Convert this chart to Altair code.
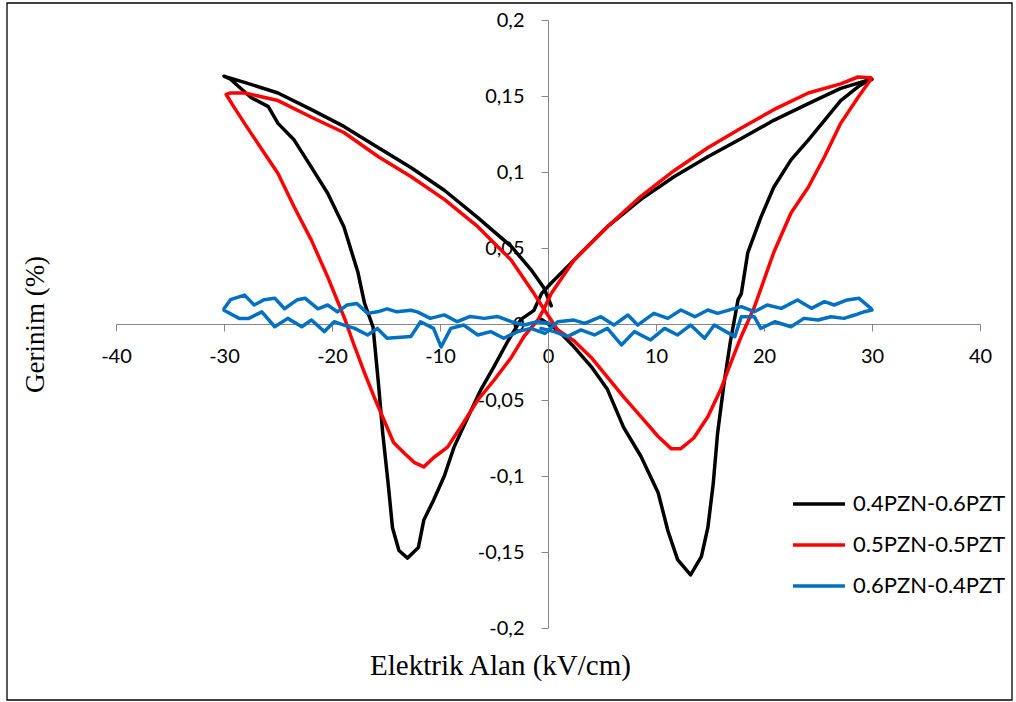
import altair as alt
import pandas as pd

SERIES = ["0.4PZN-0.6PZT", "0.5PZN-0.5PZT", "0.6PZN-0.4PZT"]
COLORS = ["#000000", "#FF0000", "#0070C0"]
X_TICKS = [-40, -30, -20, -10, 0, 10, 20, 30, 40]
Y_TICKS = [-0.2, -0.15, -0.1, -0.05, 0, 0.05, 0.1, 0.15, 0.2]

# 0.4PZN-0.6PZT  (loop traced: lower-right, upper-right, lower-left, upper-left)
BLACK_E = [-0.6, 0.9, 2.4, 4.0, 5.5, 7.0, 8.6, 10.2, 11.1, 12.0, 13.2, 14.2, 14.8, 15.3, 15.7, 16.3, 16.9, 17.6, 17.9,
           18.5, 19.7, 20.9, 22.5, 24.1, 25.6, 27.1, 28.7, 29.6, 30.0,
           29.4, 27.1, 24.1, 20.9, 17.9, 14.8, 11.7, 8.6, 5.5, 2.4, 0.3, -0.6,
           -1.3, -2.5, -3.7, -5.0, -6.2, -7.4, -8.7, -9.6, -10.6, -11.5, -12.0, -13.0, -13.8, -14.4, -14.8, -15.3,
           -15.7, -16.2, -17.0, -17.6, -18.9, -20.4, -21.9, -23.5, -25.0, -25.9, -27.5, -29.4, -30.0,
           -29.8, -28.1, -25.0, -21.9, -18.9, -15.7, -12.7, -9.6, -6.5, -3.4, -1.6, -0.4, 0.3]
BLACK_S = [0.003, -0.004, -0.015, -0.028, -0.043, -0.068, -0.087, -0.111, -0.136, -0.155, -0.165, -0.153, -0.134,
           -0.105, -0.072, -0.039, -0.011, 0.016, 0.020, 0.047, 0.070, 0.090, 0.108, 0.121, 0.134, 0.147, 0.156,
           0.160, 0.161,
           0.160, 0.155, 0.145, 0.134, 0.122, 0.110, 0.097, 0.082, 0.064, 0.042, 0.027, 0.020,
           0.009, 0.003, -0.011, -0.028, -0.043, -0.061, -0.081, -0.100, -0.116, -0.129, -0.147, -0.154, -0.149,
           -0.134, -0.105, -0.072, -0.039, -0.002, 0.014, 0.034, 0.064, 0.086, 0.103, 0.121, 0.132, 0.143, 0.149,
           0.161, 0.163,
           0.1625, 0.159, 0.152, 0.141, 0.130, 0.116, 0.103, 0.088, 0.070, 0.051, 0.036, 0.024, 0.012]

# 0.5PZN-0.5PZT
RED_E = [29.9, 28.7, 27.1, 24.1, 20.9, 17.9, 14.8, 11.7, 8.6, 5.5, 2.4, 0.3, -0.3,
         -0.9, -2.2, -3.4, -5.0, -6.5, -8.1, -9.3, -10.6, -11.5, -12.4, -13.3, -14.3, -15.2, -16.1, -17.0, -18.0,
         -18.8, -20.4, -21.9, -23.5, -25.0, -26.6, -28.1, -29.1, -29.8,
         -29.4, -28.1, -25.0, -21.9, -18.9, -15.7, -12.7, -9.6, -6.5, -3.4, -1.3, -0.4,
         0.9, 2.4, 4.0, 5.5, 7.0, 8.6, 10.2, 11.4, 12.3, 13.5, 14.8, 16.0, 16.9, 17.9, 19.1, 20.9, 22.5, 24.1,
         25.6, 27.1, 28.7, 29.9]
RED_S = [0.162, 0.1625, 0.158, 0.152, 0.141, 0.129, 0.116, 0.101, 0.084, 0.064, 0.042, 0.020, 0.011,
         0.003, -0.008, -0.022, -0.037, -0.050, -0.068, -0.081, -0.088, -0.094, -0.091, -0.085, -0.078, -0.063,
         -0.048, -0.032, -0.013, 0.003, 0.031, 0.055, 0.077, 0.099, 0.116, 0.132, 0.143, 0.151,
         0.152, 0.152, 0.147, 0.136, 0.126, 0.110, 0.097, 0.082, 0.064, 0.042, 0.020, 0.010,
         -0.004, -0.011, -0.022, -0.035, -0.048, -0.061, -0.074, -0.082, -0.082, -0.075, -0.061, -0.043, -0.026,
         -0.008, 0.011, 0.047, 0.073, 0.090, 0.110, 0.132, 0.149, 0.161]

# 0.6PZN-0.4PZT (noisy, nearly flat loop)
BLUE_E = [-0.65, 0.59, 1.8, 3.05, 4.3, 5.5, 6.8, 8.0, 9.5, 10.8, 12.0, 13.2, 14.5, 15.4, 17.3, 17.9, 19.1, 19.7,
          21.0, 22.5, 23.7, 25.0, 26.2, 27.4, 28.4, 29.3, 30.0,
          29.9, 28.8, 27.7, 26.5, 25.6, 24.4, 23.1, 21.6, 20.3, 19.1, 17.9, 17.3, 15.7, 14.8, 13.6, 12.3, 11.1,
          9.8, 8.3, 7.4, 6.1, 4.9, 3.4, 2.4, 0.9, -0.3,
          -1.6, -2.8, -4.1, -5.3, -6.5, -7.8, -9.0, -9.9, -10.6, -11.8, -12.7, -14.9, -15.8, -16.7, -17.9, -18.9,
          -19.8, -20.7, -21.9, -22.8, -24.1, -25.3, -26.5, -27.7, -28.6, -30.0,
          -30.0, -29.4, -28.1, -27.2, -26.3, -25.3, -24.4, -23.2, -22.5, -21.3, -20.4, -19.5, -18.6, -17.7, -16.7,
          -15.8, -14.9, -14.0, -12.7, -12.1, -10.9, -9.6, -8.4, -7.2, -5.9, -4.7, -3.4, -2.2, -1.0, 0.2]
BLUE_S = [-0.0029, -0.005, -0.0083, -0.0039, -0.0072, -0.0029, -0.0138, -0.005, -0.0105, -0.0029, -0.0072,
          -0.0007, -0.0094, -0.0007, -0.0083, 0.0048, 0.0048, -0.0029, 0.0015, -0.0018, 0.0037, 0.0026, 0.0048,
          0.0037, 0.0059, 0.0081, 0.0092,
          0.0103, 0.0169, 0.0158, 0.0125, 0.0147, 0.0103, 0.0158, 0.0103, 0.0125, 0.0081, 0.0114, 0.0103, 0.007,
          0.0092, 0.0048, 0.0092, 0.0037, 0.007, -0.0007, 0.0059, -0.0007, 0.0048, 0.0004, 0.0026, 0.0015, -0.0062,
          -0.0029, -0.005, -0.0094, -0.005, -0.0072, -0.0007, -0.0029, -0.0151, -0.0029, 0.0015, -0.0083, -0.0094,
          -0.0029, -0.0072, -0.0029, -0.0007, 0.0015, -0.005, 0.0026, -0.0018, 0.0037, -0.0018, 0.008, 0.0037,
          0.0037, 0.009,
          0.010, 0.016, 0.019, 0.0125, 0.016, 0.017, 0.010, 0.016, 0.017, 0.010, 0.0125, 0.008, 0.0125, 0.0135,
          0.007, 0.008, 0.010, 0.008, 0.009, 0.008, 0.0037, 0.006, 0.0015, 0.005, 0.0037, 0.005, 0.0015, -0.0007,
          0.0015, 0.0004]

rows = []
for name, es, ss in zip(SERIES, [BLACK_E, RED_E, BLUE_E], [BLACK_S, RED_S, BLUE_S]):
    for i, (e, s) in enumerate(zip(es, ss)):
        rows.append({"series": name, "E": e, "S": s, "i": i})
df = pd.DataFrame(rows)

W, H = 864, 608
SERIF = "Liberation Serif"

x_enc = alt.X("E:Q", scale=alt.Scale(domain=[-40, 40], nice=False),
              axis=alt.Axis(values=X_TICKS, orient="bottom", offset=-H / 2, grid=False,
                            domainColor="#868686", tickColor="#868686", tickSize=7,
                            labelFont="Lato", labelFontSize=20, labelColor="black", labelPadding=15,
                            labelExpr="'' + datum.value", labelFlush=False, labelOverlap=False,
                            title="Elektrik Alan (kV/cm)", titleFont=SERIF, titleFontSize=29,
                            titleFontWeight="normal", titleColor="black", titleX=384, titleY=341,
                            titleBaseline="middle", titleAlign="center"))
y_enc = alt.Y("S:Q", scale=alt.Scale(domain=[-0.2, 0.2], nice=False),
              axis=alt.Axis(values=Y_TICKS, orient="left", offset=-W / 2, grid=False,
                            domainColor="#868686", tickColor="#868686", tickSize=7,
                            labelFont="Lato", labelFontSize=20, labelColor="black", labelPadding=17,
                            labelExpr="replace('' + datum.value, '.', ',')", labelFlush=False,
                            labelOverlap=False,
                            title="Gerinim (%)", titleFont=SERIF, titleFontSize=27,
                            titleFontWeight="normal", titleColor="black", titleX=-513, titleY=304,
                            titleAngle=270, titleBaseline="middle", titleAlign="center"))
color_enc = alt.Color("series:N", scale=alt.Scale(domain=SERIES, range=COLORS),
                      legend=alt.Legend(orient="none", legendX=675, legendY=473, title=None,
                                        symbolType="stroke", symbolSize=2704, symbolStrokeWidth=3.5,
                                        labelFont="Lato", labelFontSize=22, labelColor="black",
                                        labelOffset=6, clipHeight=22, rowPadding=19, padding=0))

border = alt.Chart(alt.Data(values=[{"a": 1}])).mark_rect(
    fillOpacity=0, stroke="#000000", strokeWidth=1.3
).encode(x=alt.value(-109), x2=alt.value(896), y=alt.value(-17), y2=alt.value(680))

layers = [border]
for name in SERIES:
    layers.append(
        alt.Chart(df).transform_filter(alt.datum.series == name)
        .mark_line(strokeWidth=3.5, strokeJoin="round", strokeCap="round")
        .encode(x=x_enc, y=y_enc, color=color_enc, order=alt.Order("i:Q"))
    )

chart = alt.layer(*layers).properties(
    width=W, height=H, padding={"left": 6, "top": 2, "right": 3, "bottom": 1}, background="white"
).configure_view(stroke=None).configure_axis(titleFont=SERIF)

chart.save("out.html", embed_options={"renderer": "svg", "actions": False})
